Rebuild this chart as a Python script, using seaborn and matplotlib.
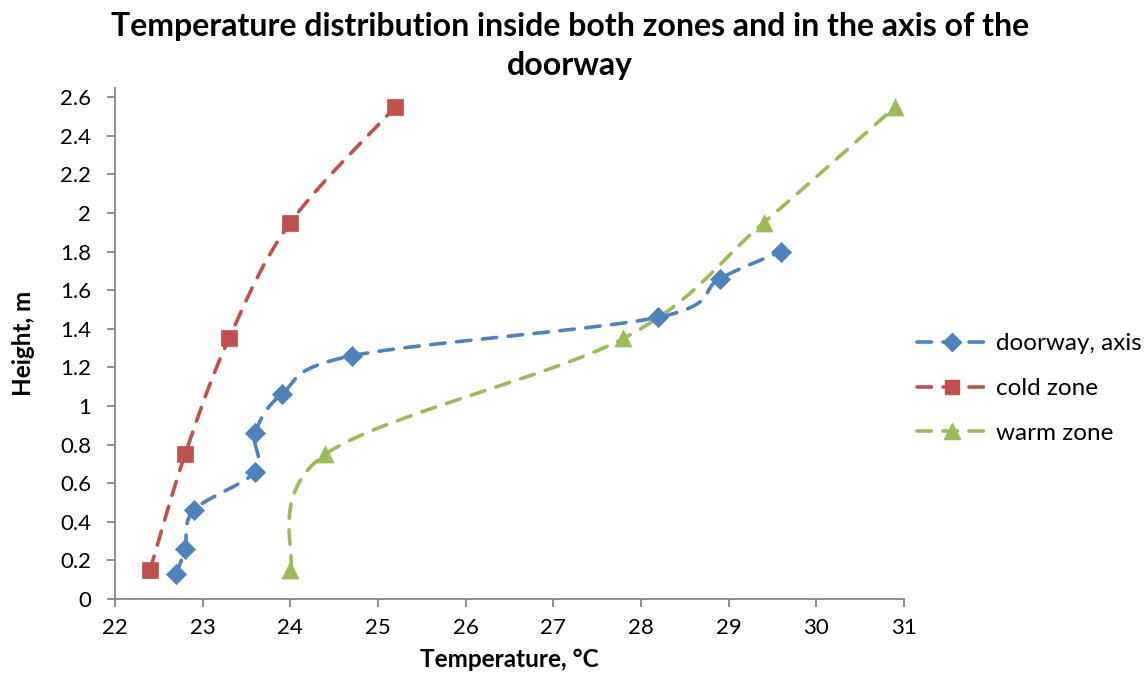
import numpy as np
import pandas as pd
import matplotlib
matplotlib.use("Agg")
import matplotlib.pyplot as plt
from matplotlib.lines import Line2D
import seaborn as sns

# Measured temperatures (°C) and heights (m)
door_temp = [22.7, 22.8, 22.9, 23.6, 23.6, 23.9, 24.7, 28.2, 28.9, 29.6]
door_height = [0.13, 0.26, 0.46, 0.66, 0.86, 1.06, 1.26, 1.46, 1.66, 1.80]
cold_temp = [22.4, 22.8, 23.3, 24.0, 25.2]
cold_height = [0.15, 0.75, 1.35, 1.95, 2.55]
warm_temp = [24.0, 24.4, 27.8, 29.4, 30.9]
warm_height = [0.15, 0.75, 1.35, 1.95, 2.55]

series_names = ["doorway, axis", "cold zone", "warm zone"]
x_ticks = [22, 23, 24, 25, 26, 27, 28, 29, 30, 31]
y_ticks = [0, 0.2, 0.4, 0.6, 0.8, 1.0, 1.2, 1.4, 1.6, 1.8, 2.0, 2.2, 2.4, 2.6]
y_tick_labels = ["0", "0.2", "0.4", "0.6", "0.8", "1", "1.2", "1.4", "1.6", "1.8", "2", "2.2", "2.4", "2.6"]

colors = {"doorway, axis": "#4F81BD", "cold zone": "#C0504D", "warm zone": "#9BBB59"}
markers = {"doorway, axis": "D", "cold zone": "s", "warm zone": "^"}
msizes = {"doorway, axis": 105, "cold zone": 120, "warm zone": 150}
leg_msizes = {"doorway, axis": 9, "cold zone": 10, "warm zone": 11}

LW = 2.6
DASH = (0, (4.0, 3.2))

sns.set_theme(style="white")
plt.rcParams["font.family"] = ["Lato", "DejaVu Sans"]
plt.rcParams["text.color"] = "black"
plt.rcParams["axes.labelcolor"] = "black"

fig = plt.figure(figsize=(11.46, 6.84), dpi=100)
ax = fig.add_axes([0.1003, 0.1243, 0.6885, 0.7468])

xlim = (22, 31)
ylim = (0, 2.647)
ax_w_px = 0.6885 * 1146
ax_h_px = 0.7468 * 684
sx = ax_w_px / (xlim[1] - xlim[0])
sy = ax_h_px / (ylim[1] - ylim[0])


def smooth(xs, ys, n=40):
    """Bezier smoothing through every point (control points at 1/6 of neighbour span)."""
    p = np.column_stack([np.asarray(xs) * sx, np.asarray(ys) * sy])
    pts = np.vstack([p[0], p, p[-1]])
    out = []
    t = np.linspace(0, 1, n)[:, None]
    for i in range(1, len(pts) - 2):
        p0, p1 = pts[i], pts[i + 1]
        c1 = p0 + (pts[i + 1] - pts[i - 1]) / 6.0
        c2 = p1 - (pts[i + 2] - pts[i]) / 6.0
        seg = ((1 - t) ** 3) * p0 + 3 * ((1 - t) ** 2) * t * c1 + 3 * (1 - t) * t ** 2 * c2 + t ** 3 * p1
        out.append(seg if i == 1 else seg[1:])
    c = np.vstack(out)
    return c[:, 0] / sx, c[:, 1] / sy


points = pd.concat([
    pd.DataFrame({"temp": door_temp, "height": door_height, "series": series_names[0]}),
    pd.DataFrame({"temp": cold_temp, "height": cold_height, "series": series_names[1]}),
    pd.DataFrame({"temp": warm_temp, "height": warm_height, "series": series_names[2]}),
], ignore_index=True)

for name in series_names:
    sub = points[points.series == name]
    cx, cy = smooth(sub.temp.values, sub.height.values)
    curve = pd.DataFrame({"temp": cx, "height": cy})
    sns.lineplot(data=curve, x="temp", y="height", sort=False, estimator=None, ax=ax,
                 color=colors[name], linewidth=LW, linestyle=DASH,
                 dash_capstyle="round", legend=False)
    sns.scatterplot(data=sub, x="temp", y="height", ax=ax, color=colors[name],
                    marker=markers[name], s=msizes[name], edgecolor=colors[name],
                    linewidth=0.5, legend=False, zorder=3)

ax.set_xlim(*xlim)
ax.set_ylim(*ylim)
ax.set_xticks(x_ticks)
ax.set_xticklabels([str(v) for v in x_ticks])
ax.set_yticks(y_ticks)
ax.set_yticklabels(y_tick_labels)
ax.tick_params(axis="both", which="both", direction="out", length=6, width=1.3,
               color="#868686", labelsize=16, labelcolor="black")
ax.tick_params(axis="y", pad=11)
ax.tick_params(axis="x", pad=8)
ax.tick_params(bottom=True, left=True)

for side in ["top", "right"]:
    ax.spines[side].set_visible(False)
for side in ["left", "bottom"]:
    ax.spines[side].set_color("#868686")
    ax.spines[side].set_linewidth(1.3)

ax.set_xlabel("Temperature, °C", fontsize=17.5, fontweight="bold", labelpad=7)
ax.set_ylabel("Height, m", fontsize=17.5, fontweight="bold", labelpad=18)

fig.suptitle("Temperature distribution inside both zones and in the axis of the\ndoorway",
             x=0.4975, y=0.983, fontsize=23, fontweight="bold", linespacing=1.45)

handles = [Line2D([], [], color=colors[n], linewidth=LW, linestyle=DASH,
                  dash_capstyle="round", marker=markers[n],
                  markersize=leg_msizes[n]) for n in series_names]
fig.legend(handles, series_names, loc="center left", bbox_to_anchor=(0.781, 0.432),
           frameon=False, fontsize=17.5, handlelength=2.9, labelspacing=0.98,
           handletextpad=0.35, numpoints=1)

fig.savefig("out.png", dpi=100)
